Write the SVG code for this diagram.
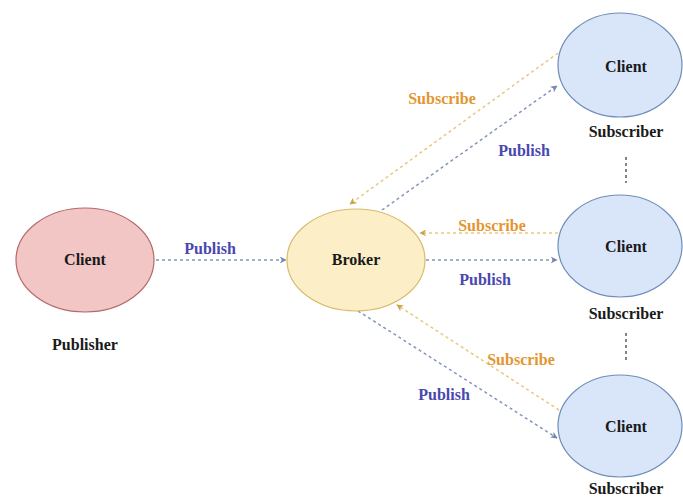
<svg xmlns="http://www.w3.org/2000/svg" width="683" height="498" viewBox="0 0 683 498">
  <style>
    .lbl { font-family: "Liberation Serif", "Times New Roman", serif; font-weight: bold; font-size: 16px; text-anchor: middle; }
    .node-text { fill: #1a1a1a; }
    .pub-text { fill: #4a47b0; }
    .sub-text { fill: #e3962f; }
    .pub-line { stroke: #8396bd; stroke-width: 1.5; stroke-dasharray: 3 3; fill: none; marker-end: url(#arrowPub); }
    .sub-line { stroke: #e8c77e; stroke-width: 1.5; stroke-dasharray: 3 3; fill: none; marker-end: url(#arrowSub); }
    .link { stroke: #333; stroke-width: 1.2; stroke-dasharray: 3 3; fill: none; }
    .publisher { fill: #f3c6c6; stroke: #b26a6a; stroke-width: 1.2; }
    .broker { fill: #fcefc7; stroke: #d8bc6a; stroke-width: 1.2; }
    .subscriber { fill: #d9e6fa; stroke: #6f8db8; stroke-width: 1.2; }
  </style>
  <defs>
    <marker id="arrowPub" viewBox="0 0 10 10" refX="9" refY="5" markerWidth="7" markerHeight="7" orient="auto" markerUnits="userSpaceOnUse">
      <path d="M0,0 L10,5 L0,10 L3,5 Z" fill="#7488b3"/>
    </marker>
    <marker id="arrowSub" viewBox="0 0 10 10" refX="9" refY="5" markerWidth="7" markerHeight="7" orient="auto" markerUnits="userSpaceOnUse">
      <path d="M0,0 L10,5 L0,10 L3,5 Z" fill="#c9a548"/>
    </marker>
  </defs>

  <rect width="683" height="498" fill="#ffffff"/>

  <!-- connectors -->
  <g id="connectors">
    <line class="pub-line" x1="156" y1="260" x2="286" y2="260"/>
    <line class="sub-line" x1="558" y1="53" x2="350" y2="204"/>
    <line class="pub-line" x1="382" y1="210" x2="557" y2="86"/>
    <line class="sub-line" x1="558" y1="233" x2="420" y2="233"/>
    <line class="pub-line" x1="426" y1="260" x2="557" y2="260"/>
    <line class="sub-line" x1="559" y1="410" x2="397" y2="305"/>
    <line class="pub-line" x1="358" y1="311" x2="557" y2="438"/>
    <line class="link" x1="626" y1="157" x2="626" y2="183"/>
    <line class="link" x1="626" y1="333" x2="626" y2="362"/>
    <text class="lbl pub-text" x="210" y="254">Publish</text>
    <text class="lbl sub-text" x="442" y="104">Subscribe</text>
    <text class="lbl pub-text" x="524" y="156">Publish</text>
    <text class="lbl sub-text" x="492" y="231">Subscribe</text>
    <text class="lbl pub-text" x="485" y="285">Publish</text>
    <text class="lbl sub-text" x="521" y="365">Subscribe</text>
    <text class="lbl pub-text" x="444" y="400">Publish</text>
  </g>

  <!-- publisher client -->
  <g id="publisher">
    <ellipse class="publisher" cx="85" cy="260" rx="69" ry="52"/>
    <text class="lbl node-text" x="85" y="265">Client</text>
    <text class="lbl node-text" x="85" y="350">Publisher</text>
  </g>

  <!-- broker -->
  <g id="broker">
    <ellipse class="broker" cx="356" cy="260" rx="69" ry="51"/>
    <text class="lbl node-text" x="356" y="265">Broker</text>
  </g>

  <!-- subscribers -->
  <g id="subscriber-top">
    <ellipse class="subscriber" cx="620" cy="65" rx="62" ry="52"/>
    <text class="lbl node-text" x="626" y="72">Client</text>
    <text class="lbl node-text" x="626" y="137">Subscriber</text>
  </g>
  <g id="subscriber-middle">
    <ellipse class="subscriber" cx="620" cy="246" rx="62" ry="51"/>
    <text class="lbl node-text" x="626" y="252">Client</text>
    <text class="lbl node-text" x="626" y="319">Subscriber</text>
  </g>
  <g id="subscriber-bottom">
    <ellipse class="subscriber" cx="620" cy="426" rx="62" ry="51"/>
    <text class="lbl node-text" x="626" y="432">Client</text>
    <text class="lbl node-text" x="626" y="494">Subscriber</text>
  </g>
</svg>
